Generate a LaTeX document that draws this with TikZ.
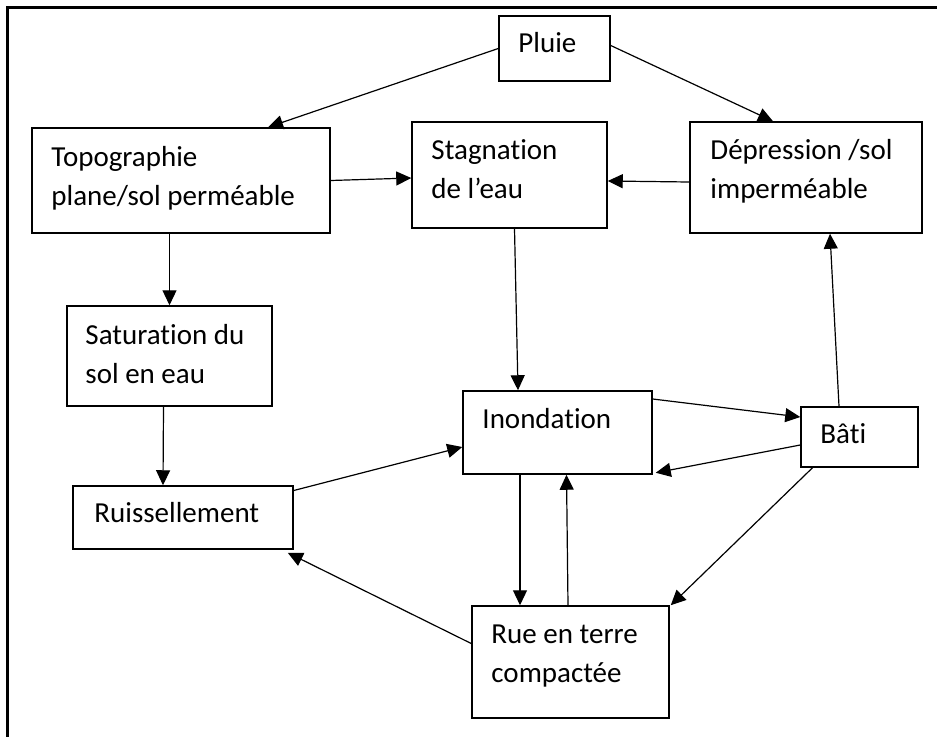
\documentclass[tikz,border=0pt]{standalone}
\usepackage{fontspec}
\setmainfont{Carlito}[Ligatures=NoCommon]
\usetikzlibrary{arrows.meta}

\begin{document}
\begin{tikzpicture}[x=1pt,y=-1pt,
  box/.style={draw,line width=1.5pt,inner sep=0pt},
  boxtxt/.style={anchor=north west,inner sep=0pt,align=left,font=\fontsize{29}{39}\selectfont,execute at begin node=\strut},
  link/.style={line width=1.2pt,-{Triangle[length=15pt,width=14pt]}}]
  \useasboundingbox (0,0) rectangle (937,737);
  % frame
  \draw[line width=2.4pt] (937,7.5) -- (7.5,7.5) -- (7.5,737);

  % boxes
  \node[box,minimum width=111,minimum height=65] (pluie) at (554.5,48.5) {};
  \node[box,minimum width=298,minimum height=105] (topo) at (181,180.5) {};
  \node[box,minimum width=195,minimum height=106] (stag) at (509.5,175) {};
  \node[box,minimum width=232,minimum height=111] (depr) at (806,177.5) {};
  \node[box,minimum width=205,minimum height=100] (satu) at (169.5,356) {};
  \node[box,minimum width=220,minimum height=63] (ruis) at (183,517.5) {};
  \node[box,minimum width=189,minimum height=83] (inon) at (557.5,432.5) {};
  \node[box,minimum width=117,minimum height=60] (bati) at (859.5,437) {};
  \node[box,minimum width=197,minimum height=112] (rue) at (570.5,662) {};

  % texts
  \node[boxtxt] (pluie-t) at ([shift={(20,9.7)}]pluie.north west) {Pluie};
  \node[boxtxt] (topo-t) at ([shift={(20,19)}]topo.north west) {Topographie\\plane/sol perméable};
  \node[boxtxt] (stag-t) at ([shift={(20,18)}]stag.north west) {Stagnation\\de l’eau};
  \node[boxtxt] (depr-t) at ([shift={(21,18)}]depr.north west) {Dépression /sol\\imperméable};
  \node[boxtxt] (satu-t) at ([shift={(19,18.5)}]satu.north west) {Saturation du\\sol en eau};
  \node[boxtxt] (ruis-t) at ([shift={(22,9.7)}]ruis.north west) {Ruissellement};
  \node[boxtxt] (inon-t) at ([shift={(20,11)}]inon.north west) {Inondation};
  \node[boxtxt] (bati-t) at ([shift={(20,10)}]bati.north west) {Bâti};
  \node[boxtxt] (rue-t) at ([shift={(20,19)}]rue.north west) {Rue en terre\\compactée};

  % links
  \draw[link] (pluie.west) -- ([shift={(87,0)}]topo.north);
  \draw[link] ([shift={(0,-3)}]pluie.east) -- ([shift={(-33,0)}]depr.north);
  \draw[link] (topo.east) -- ([shift={(0,3)}]stag.west);
  \draw[link] ([shift={(0,4.5)}]depr.west) -- ([shift={(0,6)}]stag.east);
  \draw[link] ([shift={(-11.5,0)}]topo.south) -- (satu.north);
  \draw[link] ([shift={(-6,0)}]satu.south) -- ([shift={(-20,0)}]ruis.north);
  \draw[link] ([shift={(5,0)}]stag.south) -- ([shift={(-39.5,0)}]inon.north);
  \draw[link] ([shift={(0,-27)}]ruis.east) -- ([shift={(0,14.5)}]inon.west);
  \draw[link] ([shift={(0,-33.5)}]inon.east) -- ([shift={(0,-20)}]bati.west);
  \draw[link] ([shift={(0,8)}]bati.west) -- ([shift={(3,-2)}]inon.south east);
  \draw[link] ([shift={(-20.5,0)}]bati.north) -- ([shift={(24,0)}]depr.south);
  \draw[link] ([shift={(-37.5,0)}]inon.south) -- ([shift={(-50.5,0)}]rue.north);
  \draw[link] ([shift={(-2.5,0)}]rue.north) -- ([shift={(9,0)}]inon.south);
  \draw[link] ([shift={(-47,0)}]bati.south) -- ([shift={(1,0)}]rue.north east);
  \draw[link] ([shift={(1,-18)}]rue.west) -- ([shift={(-6,3)}]ruis.south east);
\end{tikzpicture}
\end{document}
